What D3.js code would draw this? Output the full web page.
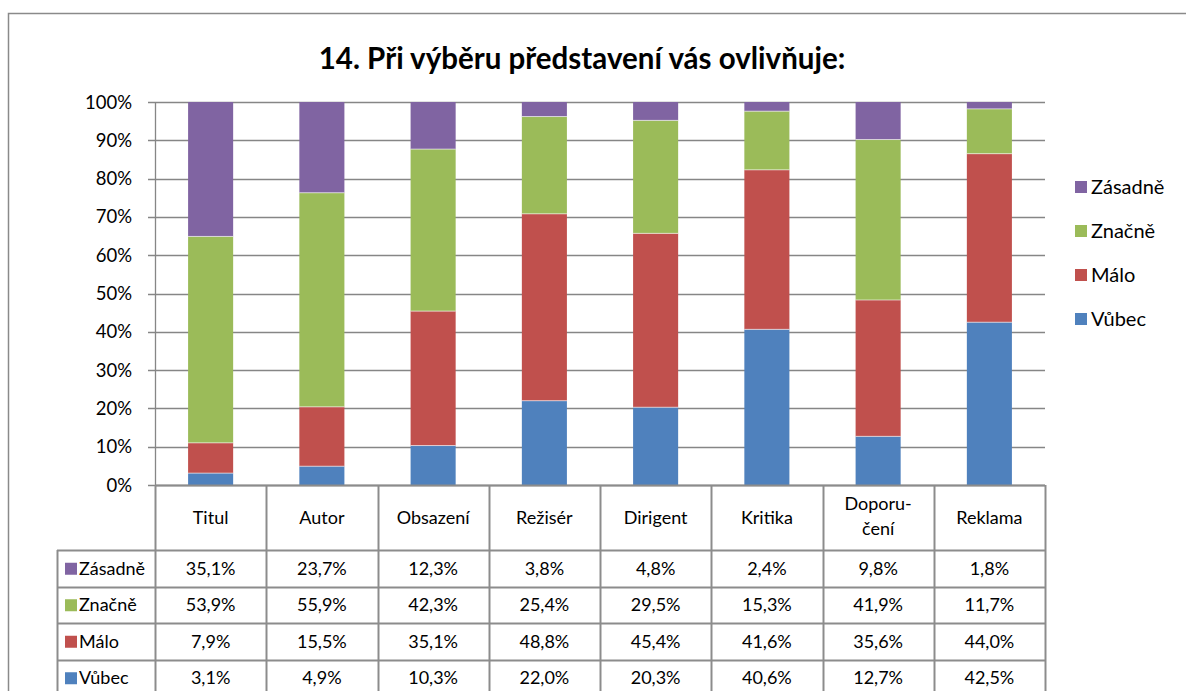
<!DOCTYPE html>
<html><head><meta charset="utf-8">
<script src="https://cdn.jsdelivr.net/npm/d3@7"></script>
<style>body{margin:0;background:#fff}svg{display:block;font-family:Lato,"Open Sans",sans-serif}</style>
</head><body><svg id="c" width="1186" height="691"></svg>
<script>
const categories = ["Titul","Autor","Obsazení","Režisér","Dirigent","Kritika","Doporu-\nčení","Reklama"];
const seriesNames = ["Vůbec","Málo","Značně","Zásadně"];
const vubec   = [3.1,4.9,10.3,22.0,20.3,40.6,12.7,42.5];
const malo    = [7.9,15.5,35.1,48.8,45.4,41.6,35.6,44.0];
const znacne  = [53.9,55.9,42.3,25.4,29.5,15.3,41.9,11.7];
const zasadne = [35.1,23.7,12.3,3.8,4.8,2.4,9.8,1.8];
const colors = ["#4F81BD","#C0504D","#9BBB59","#8064A2"];
const yTicks = [0,10,20,30,40,50,60,70,80,90,100];
const title = "14. Při výběru představení vás ovlivňuje:";

const values = [vubec, malo, znacne, zasadne];
const svg = d3.select("#c");
const L = 155, R = 1045, T = 102, B = 485;
const gridCol = "#868686";

// outer border
svg.append("path").attr("d","M8.5,700 V13.5 H1190").attr("fill","none").attr("stroke","#8a8a8a").attr("stroke-width",1.5);

svg.append("text").attr("x",582).attr("y",69).attr("text-anchor","middle")
  .attr("font-size",29.5).attr("font-weight","bold").attr("fill","#000").text(title);

const x = d3.scaleBand().domain(d3.range(categories.length)).range([L,R]).paddingInner(0.595).paddingOuter(0.2975);
const xc = d3.scaleBand().domain(d3.range(categories.length)).range([L,R]);
const y = d3.scaleLinear().domain([0,100]).range([B,T]);

// gridlines
svg.append("g").selectAll("line").data(yTicks).join("line")
  .attr("x1",L-7).attr("x2",R).attr("y1",d=>Math.round(y(d))+0.5).attr("y2",d=>Math.round(y(d))+0.5)
  .attr("stroke",gridCol).attr("stroke-width",1.3);
svg.append("g").selectAll("text").data(yTicks).join("text")
  .attr("x",132).attr("y",d=>y(d)+6.5).attr("text-anchor","end").attr("font-size",18.5).attr("fill","#000")
  .text(d=>d+"%");

// stacked bars
const rows = categories.map((c,i)=>{const o={i}; seriesNames.forEach((s,k)=>o[s]=values[k][i]); return o;});
const stack = d3.stack().keys(seriesNames).offset(d3.stackOffsetExpand)(rows);
svg.append("g").selectAll("g").data(stack).join("g").attr("fill",(d,k)=>colors[k])
  .selectAll("rect").data(d=>d).join("rect")
  .attr("x",d=>x(d.data.i)).attr("width",x.bandwidth())
  .attr("y",d=>y(d[1]*100)).attr("height",d=>y(d[0]*100)-y(d[1]*100));
svg.append("g").selectAll("g").data(stack.slice(0,3)).join("g")
  .selectAll("line").data(d=>d).join("line")
  .attr("x1",d=>x(d.data.i)).attr("x2",d=>x(d.data.i)+x.bandwidth())
  .attr("y1",d=>y(d[1]*100)).attr("y2",d=>y(d[1]*100)).attr("stroke","#fff").attr("stroke-width",0.6);

// axis line
svg.append("line").attr("x1",L+0.5).attr("x2",L+0.5).attr("y1",T).attr("y2",B).attr("stroke",gridCol).attr("stroke-width",1.3);

// data table
const tCol = "#8c8c8c";
const headBottom = 550, rowH = 36.5, TL = 57;
const tg = svg.append("g");
tg.append("line").attr("x1",L).attr("x2",R).attr("y1",B+0.5).attr("y2",B+0.5).attr("stroke",tCol).attr("stroke-width",2);
for (let r=0;r<=4;r++){
  const yy = Math.round(headBottom + r*rowH);
  tg.append("line").attr("x1",TL).attr("x2",R).attr("y1",yy+0.5).attr("y2",yy+0.5).attr("stroke",tCol).attr("stroke-width",2);
}
const colEdges = d3.range(categories.length+1).map(i=>i<categories.length?xc(i):R);
tg.selectAll("line.v").data(colEdges).join("line").attr("class","v")
  .attr("x1",d=>Math.round(d)+0.5).attr("x2",d=>Math.round(d)+0.5).attr("y1",B).attr("y2",700)
  .attr("stroke",tCol).attr("stroke-width",2);
tg.append("line").attr("x1",TL+0.5).attr("x2",TL+0.5).attr("y1",headBottom).attr("y2",700).attr("stroke",tCol).attr("stroke-width",2);

categories.forEach((c,i)=>{
  const lines = c.split("\n");
  const cx = xc(i)+xc.bandwidth()/2;
  const t = tg.append("text").attr("text-anchor","middle").attr("font-size",18).attr("fill","#000");
  if(lines.length===1){ t.attr("x",cx).attr("y",524).text(c); }
  else { lines.forEach((ln,j)=>t.append("tspan").attr("x",cx).attr("y",510+j*25).text(ln)); }
});
const rowOrder = [3,2,1,0];
rowOrder.forEach((k,r)=>{
  const cy = headBottom + r*rowH + rowH/2 + 6.5;
  tg.append("rect").attr("x",65).attr("y",cy-12).attr("width",12).attr("height",12).attr("fill",colors[k]);
  tg.append("text").attr("x",79).attr("y",cy).attr("font-size",18).attr("fill","#000").text(seriesNames[k]);
  values[k].forEach((v,i)=>{
    tg.append("text").attr("x",xc(i)+xc.bandwidth()/2).attr("y",cy).attr("text-anchor","middle")
      .attr("font-size",18).attr("fill","#000").text(v.toFixed(1).replace(".",",")+"%");
  });
});

// legend
const lg = svg.append("g");
rowOrder.forEach((k,r)=>{
  const cy = 187 + r*44;
  lg.append("rect").attr("x",1075).attr("y",cy-6).attr("width",12).attr("height",12).attr("fill",colors[k]);
  lg.append("text").attr("x",1091).attr("y",cy+7).attr("font-size",20).attr("fill","#000").text(seriesNames[k]);
});
</script></body></html>
